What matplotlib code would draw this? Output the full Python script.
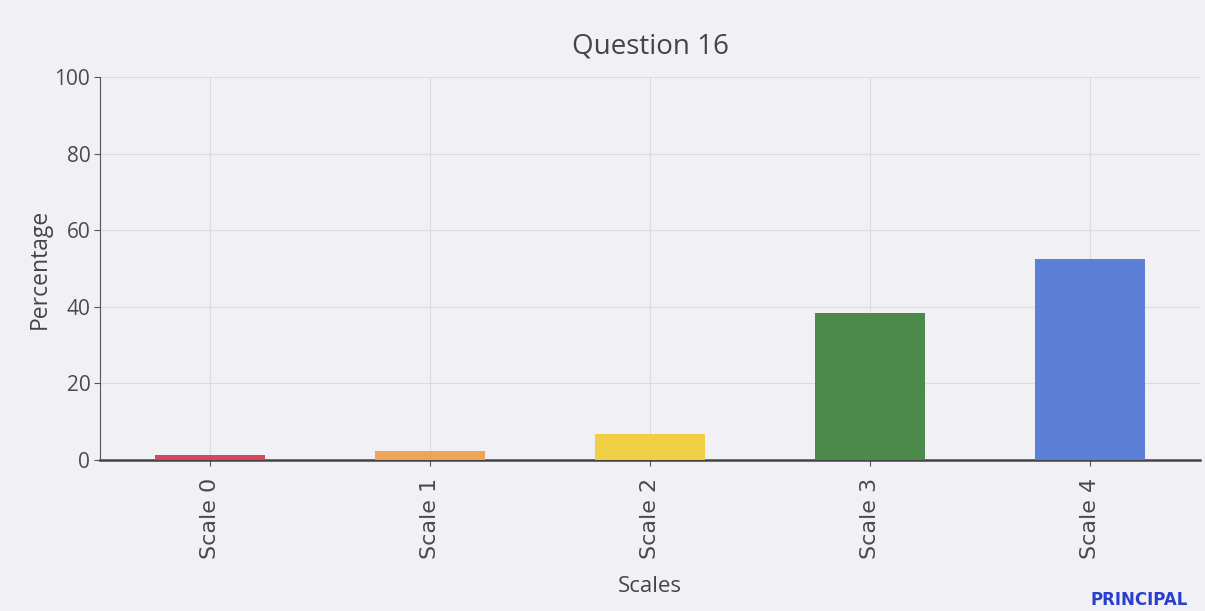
import matplotlib.pyplot as plt

scales = ["Scale 0", "Scale 1", "Scale 2", "Scale 3", "Scale 4"]
percentages = [1.2, 2.3, 6.9, 38.4, 52.5]
colors = ["#d8465c", "#eea457", "#f0cf45", "#4c8a4c", "#5b80d6"]

bg = "#f1f0f4"
fig = plt.figure(figsize=(12.05, 6.11), dpi=100, facecolor=bg)
ax = fig.add_axes([0.083, 0.247, 0.913, 0.627], facecolor=bg)

ax.bar(range(len(scales)), percentages, width=0.5, color=colors, zorder=3)

ax.set_xlim(-0.5, 4.5)
ax.set_ylim(0, 100)
ax.set_yticks([0, 20, 40, 60, 80, 100])
ax.set_xticks(range(len(scales)))
ax.set_xticklabels(scales, rotation=90, fontsize=16)
for lbl in ax.get_yticklabels():
    lbl.set_family("Open Sans")
    lbl.set_fontsize(15)
ax.tick_params(axis="x", colors="#555555", labelcolor="#4a4a4a", pad=9, length=4)
ax.tick_params(axis="y", colors="#555555", labelcolor="#4a4a4a", pad=3, length=4)
ax.grid(True, color="#dcdbe0", linewidth=0.8, zorder=0)

for side in ["top", "right"]:
    ax.spines[side].set_visible(False)
ax.spines["left"].set_color("#555555")
ax.spines["bottom"].set_color("#444444")
ax.spines["bottom"].set_linewidth(1.8)

ax.set_title("Question 16", fontsize=20, color="#444444", family="Open Sans", pad=17)
ax.set_ylabel("Percentage", fontsize=16.5, color="#444444", family="Open Sans", labelpad=2)
ax.set_xlabel("Scales", fontsize=16, color="#444444", family="Open Sans", labelpad=12)

fig.text(0.945, 0.004, "PRINCIPAL", fontsize=12, fontweight="bold", color="#2a3fd0",
         ha="center", va="bottom")

fig.savefig("out.png", dpi=100, facecolor=bg)
